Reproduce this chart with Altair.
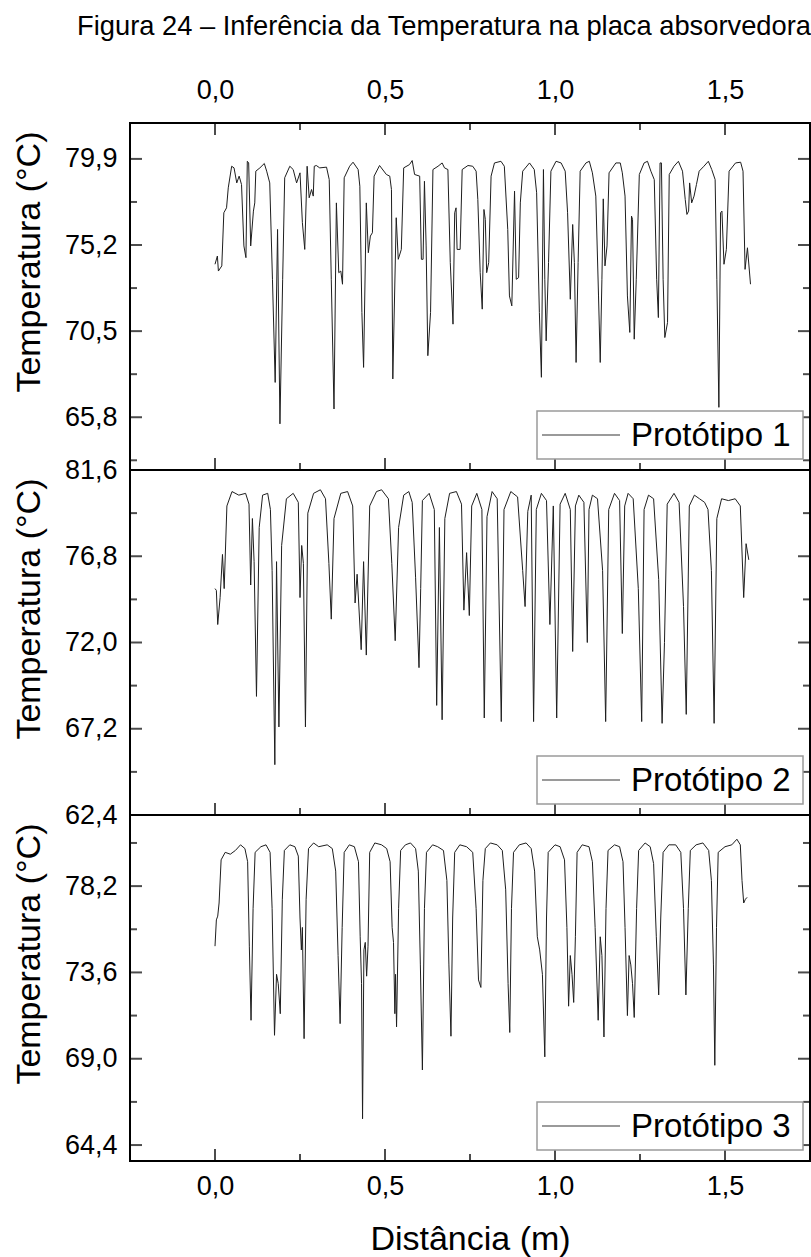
import altair as alt
import pandas as pd

FONT = "Liberation Sans"
LBL = "replace(format(datum.value, '.1f'), '.', ',')"

# ---------------- data ----------------
p1_dist = [0.000, 0.007, 0.010, 0.020, 0.026, 0.034, 0.039, 0.049, 0.056, 0.064, 0.071, 0.078, 0.085, 0.091,
           0.095, 0.099, 0.105, 0.113, 0.117, 0.120, 0.132, 0.145, 0.152, 0.161, 0.169, 0.177, 0.184, 0.191,
           0.199, 0.205, 0.220, 0.230, 0.240, 0.250, 0.257, 0.264, 0.271, 0.277, 0.284, 0.289, 0.292, 0.298,
           0.308, 0.328, 0.336, 0.342, 0.350, 0.357, 0.364, 0.370, 0.375, 0.380, 0.396, 0.406, 0.421, 0.426,
           0.432, 0.437, 0.445, 0.451, 0.457, 0.463, 0.468, 0.484, 0.504, 0.514, 0.519, 0.523, 0.533, 0.539,
           0.548, 0.555, 0.572, 0.580, 0.587, 0.602, 0.607, 0.612, 0.616, 0.621, 0.626, 0.634, 0.641, 0.656,
           0.668, 0.675, 0.685, 0.692, 0.700, 0.705, 0.709, 0.712, 0.721, 0.727, 0.744,
           0.758, 0.768, 0.773, 0.780, 0.786, 0.791, 0.795, 0.799, 0.805, 0.812, 0.822, 0.841, 0.851, 0.861,
           0.866, 0.873, 0.881, 0.886, 0.893, 0.898, 0.905, 0.925, 0.939, 0.946, 0.954, 0.960, 0.966, 0.970,
           0.974, 0.981, 0.988, 1.003, 1.018, 1.030, 1.037, 1.045, 1.052, 1.057, 1.062, 1.068, 1.074, 1.091,
           1.101, 1.110, 1.120, 1.128, 1.133, 1.138, 1.142, 1.147, 1.153, 1.159, 1.179, 1.192, 1.198, 1.206,
           1.213, 1.220, 1.225, 1.228, 1.233, 1.239, 1.248, 1.262, 1.272, 1.282, 1.292, 1.299, 1.304, 1.309,
           1.313, 1.318, 1.323, 1.331, 1.336, 1.350, 1.363, 1.375, 1.383, 1.388, 1.393, 1.396, 1.402, 1.409,
           1.416, 1.424, 1.438, 1.451, 1.461, 1.471, 1.476, 1.482, 1.487, 1.491, 1.497, 1.504, 1.512, 1.531,
           1.546, 1.553, 1.559, 1.566, 1.575]
p1_temp = [74.15, 74.60, 73.78, 74.06, 76.96, 77.23, 78.32, 79.50, 79.41, 78.59, 78.96, 78.50, 75.15, 74.51,
           79.77, 79.68, 75.15, 77.05, 77.50, 79.23, 79.41, 79.65, 79.23, 78.59, 73.33, 67.70, 76.05, 65.44,
           73.33, 78.87, 79.50, 79.32, 78.59, 79.14, 76.42, 74.96, 79.50, 77.78, 78.23, 77.87, 79.50, 79.54,
           79.41, 79.45, 78.77, 73.33, 66.25, 77.50, 73.69, 73.78, 73.06, 78.87, 79.50, 79.72, 79.32, 78.41,
           71.52, 68.52, 77.50, 74.78, 75.69, 75.87, 78.96, 79.54, 79.05, 78.96, 78.23, 67.89, 76.69, 74.42,
           74.96, 79.41, 79.59, 79.81, 79.05, 78.96, 74.42, 74.42, 78.68, 75.15, 69.16, 71.52, 79.32, 79.50,
           79.68, 79.41, 79.32, 74.24, 70.88, 76.96, 77.23, 74.96, 74.96, 79.32, 79.54,
           79.50, 79.23, 77.69, 73.69, 71.70, 77.14, 76.60, 73.69, 74.24, 78.96, 79.68, 79.77, 79.50, 76.05,
           72.42, 71.88, 78.14, 73.33, 73.42, 77.50, 79.23, 79.68, 79.32, 78.05, 71.52, 67.98, 79.32, 73.33,
           69.97, 74.24, 79.23, 79.77, 79.68, 79.23, 76.96, 72.24, 76.32, 74.24, 68.79, 74.24, 79.23, 79.68,
           79.77, 79.14, 77.87, 72.42, 68.79, 73.33, 77.72, 74.06, 75.15, 79.14, 79.68, 79.68, 79.14, 77.87,
           72.42, 70.43, 76.78, 76.60, 70.06, 73.33, 79.05, 79.68, 79.77, 79.23, 78.77, 73.33, 71.24, 79.68,
           79.68, 73.33, 70.15, 70.97, 79.05, 79.50, 79.77, 79.23, 77.69, 76.87, 77.05, 78.59, 77.50, 77.87,
           78.50, 79.23, 79.50, 79.77, 79.32, 78.77, 73.33, 66.34, 76.96, 77.05, 74.15, 74.96, 79.23, 79.68,
           79.72, 79.23, 73.87, 75.05, 73.06]

# (distance m, temperature °C)
p2_points = [
    (0.000, 75.0), (0.004, 74.9), (0.008, 73.0), (0.015, 74.5), (0.022, 76.9), (0.027, 75.0),
    (0.035, 79.6), (0.050, 80.4), (0.070, 80.2), (0.090, 80.3), (0.100, 79.7), (0.105, 75.2),
    (0.110, 78.9), (0.115, 76.5), (0.122, 69.0), (0.130, 78.4), (0.140, 80.2), (0.155, 80.3),
    (0.163, 79.4), (0.168, 76.0), (0.176, 65.2), (0.181, 76.5), (0.188, 67.3), (0.196, 77.4),
    (0.210, 80.0), (0.230, 80.3), (0.245, 79.8), (0.250, 74.5), (0.255, 77.4), (0.260, 76.4),
    (0.266, 67.3), (0.273, 79.2), (0.290, 80.3), (0.310, 80.5), (0.325, 80.0), (0.335, 76.4),
    (0.342, 73.3), (0.350, 78.9), (0.370, 80.3), (0.390, 80.4), (0.405, 79.6), (0.412, 74.2),
    (0.418, 75.8), (0.430, 71.6), (0.437, 76.5), (0.445, 71.3), (0.455, 79.6), (0.475, 80.4),
    (0.490, 80.5), (0.510, 80.0), (0.520, 76.4), (0.530, 72.1), (0.540, 78.4), (0.555, 80.2),
    (0.570, 80.4), (0.580, 79.8), (0.590, 75.6), (0.600, 70.6), (0.605, 75.0), (0.610, 79.9),
    (0.630, 80.3), (0.645, 79.4), (0.652, 68.5), (0.660, 78.4), (0.668, 67.7), (0.676, 78.9),
    (0.690, 80.3), (0.710, 80.4), (0.725, 79.7), (0.732, 73.8), (0.740, 77.0), (0.748, 73.5),
    (0.755, 79.6), (0.770, 80.3), (0.785, 79.4), (0.792, 67.8), (0.800, 79.0), (0.815, 80.4),
    (0.830, 80.0), (0.842, 67.6), (0.850, 79.4), (0.870, 80.4), (0.890, 80.1), (0.905, 76.0),
    (0.912, 74.0), (0.920, 79.3), (0.930, 80.2), (0.937, 67.6), (0.945, 79.4), (0.960, 80.3),
    (0.975, 79.9), (0.985, 73.0), (0.995, 79.6), (1.005, 67.8), (1.015, 79.7), (1.030, 80.3),
    (1.045, 79.4), (1.052, 71.5), (1.060, 79.6), (1.070, 80.2), (1.085, 79.8), (1.095, 72.0),
    (1.100, 79.4), (1.110, 80.2), (1.125, 80.0), (1.140, 76.0), (1.149, 67.6), (1.158, 79.4),
    (1.175, 80.3), (1.190, 79.9), (1.198, 72.5), (1.205, 79.6), (1.215, 80.3), (1.230, 80.0),
    (1.245, 75.0), (1.255, 67.6), (1.262, 79.4), (1.275, 80.2), (1.290, 80.0), (1.305, 75.5),
    (1.315, 67.5), (1.322, 72.0), (1.330, 79.7), (1.350, 80.3), (1.365, 79.8), (1.378, 74.0),
    (1.386, 68.0), (1.395, 79.6), (1.410, 80.2), (1.425, 80.0), (1.440, 79.8), (1.450, 79.4),
    (1.460, 76.0), (1.468, 67.5), (1.476, 78.9), (1.490, 80.0), (1.510, 79.9), (1.530, 80.0),
    (1.545, 79.6), (1.555, 74.5), (1.562, 77.5), (1.570, 76.6),
]

p3_points = [
    (0.000, 75.0), (0.004, 76.4), (0.008, 76.6), (0.012, 77.3), (0.018, 79.6), (0.030, 80.0),
    (0.045, 79.9), (0.060, 80.1), (0.075, 80.4), (0.088, 80.2), (0.096, 79.5), (0.101, 75.0),
    (0.106, 71.05), (0.112, 77.0), (0.118, 80.0), (0.135, 80.3), (0.150, 80.4), (0.162, 80.0),
    (0.168, 77.0), (0.175, 70.25), (0.181, 73.5), (0.186, 73.0), (0.192, 71.4), (0.198, 77.5),
    (0.204, 80.1), (0.220, 80.4), (0.235, 80.3), (0.245, 79.8), (0.250, 76.5), (0.254, 74.8),
    (0.257, 76.0), (0.262, 70.07), (0.268, 77.5), (0.275, 80.2), (0.290, 80.5), (0.305, 80.3),
    (0.330, 80.4), (0.345, 80.2), (0.355, 79.0), (0.362, 74.5), (0.368, 70.87), (0.374, 76.0),
    (0.380, 80.0), (0.395, 80.4), (0.410, 80.3), (0.422, 79.5), (0.427, 75.5), (0.431, 73.0),
    (0.434, 65.8), (0.438, 74.8), (0.442, 75.2), (0.446, 73.4), (0.450, 75.0), (0.455, 80.0),
    (0.470, 80.5), (0.490, 80.4), (0.505, 80.2), (0.515, 79.5), (0.521, 76.0), (0.525, 75.2),
    (0.529, 71.4), (0.531, 73.5), (0.534, 70.7), (0.540, 77.0), (0.546, 80.1), (0.560, 80.4),
    (0.575, 80.5), (0.590, 80.2), (0.598, 79.0), (0.604, 74.0), (0.610, 68.4), (0.616, 77.0),
    (0.622, 80.0), (0.640, 80.4), (0.655, 80.3), (0.672, 80.1), (0.682, 78.5), (0.688, 74.0),
    (0.694, 70.2), (0.699, 76.5), (0.705, 80.0), (0.720, 80.4), (0.740, 80.3), (0.758, 80.0),
    (0.768, 77.0), (0.775, 73.2), (0.782, 72.8), (0.788, 78.5), (0.795, 80.2), (0.810, 80.5),
    (0.830, 80.4), (0.845, 80.1), (0.855, 78.0), (0.862, 73.0), (0.867, 70.4), (0.872, 77.0),
    (0.878, 80.0), (0.895, 80.4), (0.915, 80.5), (0.930, 80.2), (0.940, 79.0), (0.948, 75.5),
    (0.955, 74.8), (0.963, 73.5), (0.970, 69.1), (0.975, 76.5), (0.980, 80.0), (1.000, 80.4),
    (1.015, 80.3), (1.028, 79.6), (1.035, 76.0), (1.040, 71.8), (1.045, 74.5), (1.050, 73.5),
    (1.055, 72.0), (1.060, 75.5), (1.065, 80.0), (1.080, 80.4), (1.100, 80.3), (1.110, 79.5),
    (1.118, 76.0), (1.127, 71.05), (1.133, 75.5), (1.138, 74.5), (1.144, 70.16), (1.150, 77.0),
    (1.156, 80.1), (1.175, 80.4), (1.190, 80.3), (1.200, 79.5), (1.206, 76.0), (1.213, 71.3),
    (1.218, 74.5), (1.223, 74.0), (1.228, 73.0), (1.233, 71.2), (1.240, 77.0), (1.246, 80.1),
    (1.265, 80.5), (1.280, 80.3), (1.290, 79.4), (1.298, 75.5), (1.305, 72.4), (1.311, 76.5),
    (1.318, 80.0), (1.335, 80.4), (1.355, 80.4), (1.370, 80.0), (1.378, 77.0), (1.385, 72.4),
    (1.392, 77.0), (1.398, 80.1), (1.415, 80.4), (1.435, 80.5), (1.452, 80.1), (1.460, 78.5),
    (1.466, 74.0), (1.470, 68.65), (1.475, 76.0), (1.480, 80.0), (1.500, 80.3), (1.520, 80.4),
    (1.535, 80.7), (1.545, 80.4), (1.550, 78.5), (1.555, 77.3), (1.560, 77.5), (1.565, 77.6),
]

x_major = [0.0, 0.5, 1.0, 1.5]
x_minor = [0.25, 0.75, 1.25]

p1_domain = [62.92, 81.86]
p1_labels = [65.8, 70.5, 75.2, 79.9]
p1_minor = [63.45, 68.15, 72.85, 77.55]

p2_domain = [62.4, 81.6]
p2_labels = [62.4, 67.2, 72.0, 76.8, 81.6]
p2_minor = [64.8, 69.6, 74.4, 79.2]

p3_domain = [63.55, 81.99]
p3_labels = [64.4, 69.0, 73.6, 78.2]
p3_minor = [66.7, 71.3, 75.9, 80.5]

W = 680
MAJ, MIN = 12, 7


def panel(dist, temp, label, ydom, ylabels, yminor, H, top=False, bottom=False):
    df = pd.DataFrame({"Distância": dist, "Temperatura": temp})
    xs = alt.Scale(domain=[-0.25, 1.75], nice=False, zero=False)
    ys = alt.Scale(domain=ydom, nice=False, zero=False)
    common = dict(values=x_major, labelExpr=LBL, ticks=False, tickSize=0, domain=False, grid=False,
                  labelFontSize=27, labelFont=FONT, labelColor="black", labelFlush=False,
                  labelOverlap=False)
    if top:
        xaxis = alt.Axis(orient="top", title=None, labelPadding=19, **common)
    elif bottom:
        xaxis = alt.Axis(orient="bottom", title="Distância (m)", titleFontSize=34, titleFont=FONT,
                         titleFontWeight="normal", titleColor="black", titlePadding=23,
                         labelPadding=12, **common)
    else:
        xaxis = None
    yaxis = alt.Axis(values=ylabels, labelExpr=LBL, ticks=False, tickSize=0, domain=False, grid=False,
                     labelFontSize=27, labelFont=FONT, labelColor="black", labelPadding=13,
                     labelFlush=False, labelOverlap=False, labelBound=False,
                     title="Temperatura (°C)", titleFontSize=34, titleFont=FONT,
                     titleFontWeight="normal", titleColor="black", titleAnchor="end",
                     titleAlign="right", titleBaseline="middle", titleAngle=270,
                     titleX=-101, titleY=8)
    X = lambda f: alt.X(f, scale=xs, axis=xaxis, title=None if not bottom else "Distância (m)")
    Y = lambda f: alt.Y(f, scale=ys, axis=yaxis, title="Temperatura (°C)")
    line = alt.Chart(df).mark_line(color="#1e1e1e", strokeWidth=1).encode(
        x=X("Distância:Q"), y=Y("Temperatura:Q"))
    ymaj_df = pd.DataFrame({"v": [v for v in ylabels if ydom[0] < v < ydom[1]]})
    ymin_df = pd.DataFrame({"v": yminor})
    xmaj_df = pd.DataFrame({"v": x_major})
    xmin_df = pd.DataFrame({"v": x_minor})
    layers = [line]
    for dfv, sz in ((ymaj_df, MAJ), (ymin_df, MIN)):
        for xpos in (sz / 2, W - sz / 2):
            layers.append(alt.Chart(dfv).mark_tick(orient="horizontal", size=sz, thickness=2,
                                                    color="black").encode(
                y=Y("v:Q"), x=alt.value(xpos)))
    for dfv, sz in ((xmaj_df, MAJ), (xmin_df, MIN)):
        ypos_list = [H - sz / 2]
        if top:
            ypos_list.append(sz / 2)
        for ypos in ypos_list:
            layers.append(alt.Chart(dfv).mark_tick(orient="vertical", size=sz, thickness=2,
                                                    color="black").encode(
                x=X("v:Q"), y=alt.value(ypos)))
    leg = pd.DataFrame({"label": [label]})
    box = alt.Chart(leg).mark_rect(fill="white", stroke="#9a9a9a", strokeWidth=1.5).encode(
        x=alt.value(407), x2=alt.value(673), y=alt.value(H - 59), y2=alt.value(H - 11))
    sym = alt.Chart(leg).mark_rule(color="#9a9a9a", strokeWidth=2).encode(
        x=alt.value(412), x2=alt.value(490), y=alt.value(H - 35))
    txt = alt.Chart(leg).mark_text(align="left", baseline="middle", fontSize=33, font=FONT,
                                   color="black").encode(
        x=alt.value(501), y=alt.value(H - 34), text="label:N")
    layers += [box, sym, txt]
    return alt.layer(*layers).properties(width=W, height=H)


p2_dist = [p[0] for p in p2_points]
p2_temp = [p[1] for p in p2_points]
p3_dist = [p[0] for p in p3_points]
p3_temp = [p[1] for p in p3_points]

p1 = panel(p1_dist, p1_temp, "Protótipo 1", p1_domain, p1_labels, p1_minor, 347, top=True)
p2 = panel(p2_dist, p2_temp, "Protótipo 2", p2_domain, p2_labels, p2_minor, 345)
p3 = panel(p3_dist, p3_temp, "Protótipo 3", p3_domain, p3_labels, p3_minor, 346, bottom=True)

chart = alt.vconcat(p1, p2, p3, spacing=0, bounds="flush").properties(
    title=alt.TitleParams("Figura 24 – Inferência da Temperatura na placa absorvedora",
                          fontSize=27.3, font=FONT, fontWeight="normal", color="black",
                          anchor="end", offset=35),
    padding={"left": 11, "top": 12, "right": 0, "bottom": 0},
).configure_view(stroke="black", strokeWidth=2)

chart.save("out.html", embed_options={"renderer": "svg", "actions": False})
